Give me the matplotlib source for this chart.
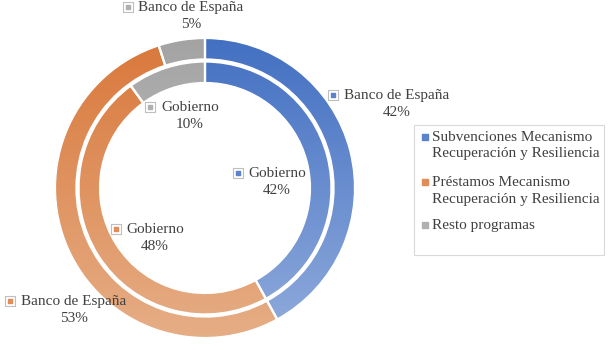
import matplotlib

matplotlib.use("Agg")
import numpy as np
import matplotlib.pyplot as plt
from matplotlib.colors import LinearSegmentedColormap
from matplotlib.patches import Rectangle

# data
series = ["Subvenciones Mecanismo\nRecuperación y Resiliencia",
          "Préstamos Mecanismo\nRecuperación y Resiliencia",
          "Resto programas"]
banco = [42, 53, 5]       # outer ring
gobierno = [42, 48, 10]   # inner ring
rings = ["Banco de España", "Gobierno"]

# (top colour, bottom colour) per series
C_TOP = ["#4370C2", "#D9783B", "#A3A3A3"]
C_BOT = ["#90ABDC", "#E6AE86", "#CDCDCD"]
C_MID = ["#5B82CB", "#E08D57", "#B0B0B0"]
TXT = "#404040"
FONT = "Liberation Serif"

W, H = 610, 353
fig = plt.figure(figsize=(W / 100, H / 100), dpi=100)

# donut axes: centre (205, 188) px, radius 150 px
cx, cy, R = 205, 188, 150
ax = fig.add_axes([(cx - R) / W, (H - cy - R) / H, 2 * R / W, 2 * R / H])
ring_w = 0.143
grad = np.linspace(0, 1, 256).reshape(-1, 1)

for vals, radius in ((banco, 1.0), (gobierno, 0.843)):
    wedges, _ = ax.pie(vals, radius=radius, startangle=90, counterclock=False,
                       wedgeprops=dict(width=ring_w, edgecolor="white", linewidth=1.6))
    for i, w in enumerate(wedges):
        w.set_facecolor("none")
        cmap = LinearSegmentedColormap.from_list("g", [C_TOP[i], C_BOT[i]])
        im = ax.imshow(grad, cmap=cmap, extent=(-1, 1, -1, 1), aspect="auto",
                       origin="upper", zorder=0)
        im.set_clip_path(w)
    # faint outline around rings
    for r in (radius, radius - ring_w):
        ax.add_patch(plt.Circle((0, 0), r, fill=False, color="#E3E3E3", lw=0.6, zorder=0.5))
ax.set_xlim(-1.0, 1.0)
ax.set_ylim(-1.0, 1.0)
ax.axis("off")

# overlay in pixel coordinates for labels and legend
ov = fig.add_axes([0, 0, 1, 1], facecolor="none")
ov.set_xlim(0, W)
ov.set_ylim(H, 0)
ov.axis("off")

# data labels: (ring index, series index, marker x, marker y, text centre x)
label_pos = [
    (0, 0, 333, 95, 397),
    (0, 1, 10, 301, 74),
    (0, 2, 128, 7, 191),
    (1, 0, 238, 173, 277),
    (1, 1, 116, 229, 155),
    (1, 2, 150, 107, 190),
]
for ring, s, mx, my, tx in label_pos:
    vals = banco if ring == 0 else gobierno
    ov.scatter([mx], [my], s=42, marker="s", facecolor="white",
               edgecolor="#BFBFBF", linewidth=0.8, zorder=3)
    ov.scatter([mx], [my], s=11, marker="s", color=C_MID[s], zorder=4)
    ov.text(tx, my - 6, f"{rings[ring]}\n{vals[s]}%", ha="center", va="top",
            fontsize=11, color=TXT, family=FONT, linespacing=1.45)

# legend
ov.add_patch(Rectangle((414, 125), 190, 130, fill=False, edgecolor="#D9D9D9", lw=0.8))
leg_y = [137, 182, 225]
for i, name in enumerate(series):
    ov.scatter([425], [leg_y[i]], s=14, marker="s", color=C_MID[i], zorder=4)
    ov.text(432, leg_y[i] - 6, name, ha="left", va="top", fontsize=11,
            color=TXT, family=FONT, linespacing=1.35)

fig.savefig("out.png", dpi=100, facecolor="white")
